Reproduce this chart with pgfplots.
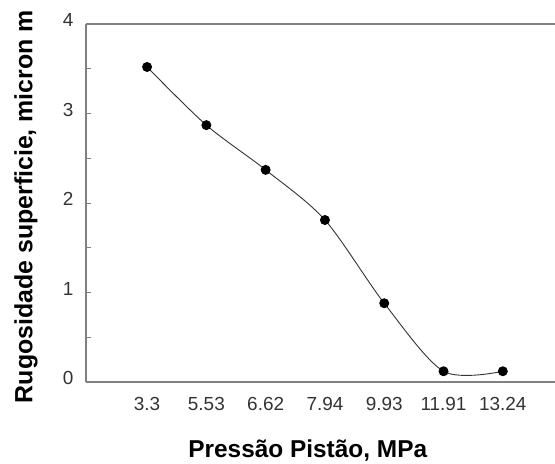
\documentclass[border=0pt]{standalone}
\usepackage{fontspec}
\setmainfont{Liberation Sans}
\usepackage{pgfplots}
\pgfplotsset{compat=1.18}
\begin{document}
\begin{tikzpicture}
\begin{axis}[
  width=469bp, height=358bp, scale only axis,
  xmin=-1.03, xmax=6.88, ymin=0, ymax=4,
  axis x line*=box, axis y line*=left,
  axis line style={draw=black!50, line width=1.3bp},
  xtick={0,1,2,3,4,5,6},
  xticklabels={3.3,5.53,6.62,7.94,9.93,11.91,13.24},
  ytick={0,1,2,3,4},
  minor ytick={0.5,1.5,2.5,3.5},
  tick align=inside,
  major x tick style={draw=none},
  y tick style={draw=black!50, line width=0.8bp},
  major tick length=5bp, minor tick length=5bp,
  /pgf/number format/assume math mode=true,
  tick label style={font=\fontsize{19}{19}\selectfont, text=black!80},
  yticklabel style={yshift=4bp, xshift=-9bp},
  xticklabel style={yshift=-12bp},
  xlabel={\textbf{Pressão Pistão, MPa}},
  ylabel={\textbf{Rugosidade superficie, micron m}},
  every axis x label/.style={at={(axis description cs:0.473,0)}, anchor=center, yshift=-69bp, font=\fontsize{24.5}{24.5}\selectfont},
  every axis y label/.style={at={(axis description cs:-0.128,0.49)}, rotate=90, anchor=center, font=\fontsize{25}{25}\selectfont},
  clip=false,
]
\addplot[smooth, draw=black!80, line width=0.9bp, mark=*, mark size=4.5bp, mark options={fill=black, draw=black}]
coordinates {(0,3.52) (1,2.87) (2,2.37) (3,1.81) (4,0.88) (5,0.12) (6,0.12)};
\end{axis}
\pgfresetboundingbox
\path[use as bounding box] ([xshift=-86bp,yshift=-82bp]current axis.south west) rectangle ([yshift=24bp]current axis.north east);
\end{tikzpicture}
\end{document}
